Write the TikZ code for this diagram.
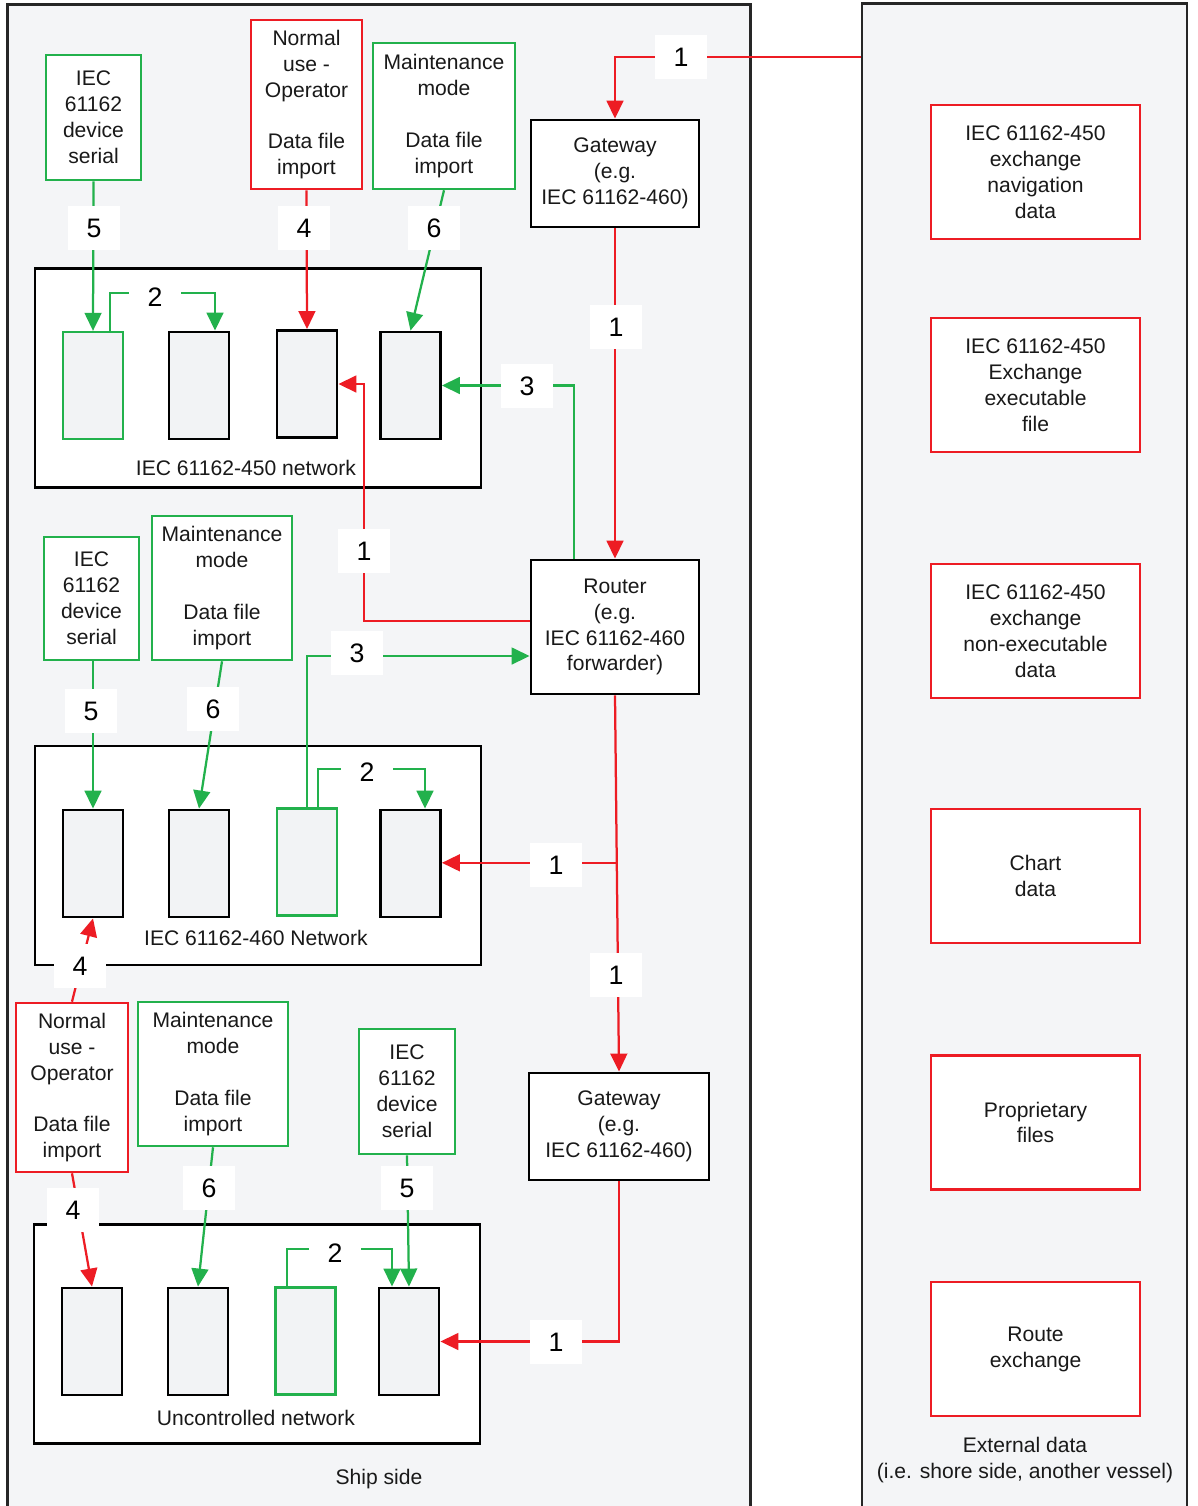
\documentclass[tikz,border=0pt]{standalone}
\usepackage{fontspec}
\setmainfont{Liberation Sans}
\usetikzlibrary{arrows.meta,calc}

\definecolor{ired}{HTML}{ED1C24}
\definecolor{igreen}{HTML}{22B14C}
\definecolor{panelgray}{HTML}{F4F5F7}
\definecolor{devgray}{HTML}{F2F3F5}

\tikzset{
  txt/.style={font=\fontsize{15}{18.4}\selectfont, align=center, text=black!90},
  blackbox/.style={txt, draw=black, line width=2pt, fill=white, inner sep=0pt},
  redbox/.style={txt, draw=ired, line width=1.8pt, fill=white, inner sep=0pt},
  greenbox/.style={txt, draw=igreen, line width=1.8pt, fill=white, inner sep=0pt},
  extbox/.style={redbox, minimum width=5.225cm, minimum height=3.35cm},
  dev/.style={draw=black, line width=2pt, fill=devgray, minimum width=1.5cm, minimum height=2.675cm, inner sep=0pt},
  gdev/.style={dev, draw=igreen, line width=1.6pt},
  net/.style={draw=black, line width=2pt, fill=white, minimum width=11.15cm, minimum height=5.475cm},
  panel/.style={draw=black!85, line width=2pt, fill=panelgray},
  num/.style={fill=white, minimum width=1.3cm, minimum height=1.1cm, inner sep=0pt, font=\fontsize{19}{19}\selectfont},
  tip/.style={-{Triangle[length=0.45cm,width=0.42cm]}},
  rline/.style={draw=ired, line width=1.6pt},
  gline/.style={draw=igreen, line width=1.6pt},
}

\begin{document}
\begin{tikzpicture}[x=0.025cm,y=-0.025cm]
  \useasboundingbox (0,0) rectangle (1197,1506);

  % the two sides
  \node[panel, minimum width=18.55cm, minimum height=37.75cm] (ship) at (379,760) {};
  \node[panel, minimum width=8.125cm, minimum height=37.775cm] (ext) at (1024.5,759.5) {};
  \node[txt] (shiplbl) at (379,1479) {Ship side};
  \node[txt] (extlbl) at (1025,1460) {External data\\(i.e. shore side, another vessel)};

  % external data
  \node[extbox] (xnav) at (1035.5,172) {IEC 61162-450\\exchange\\navigation\\data};
  \node[extbox] (xexe) at (1035.5,385) {IEC 61162-450\\Exchange\\executable\\file};
  \node[extbox] (xnonexe) at (1035.5,631) {IEC 61162-450\\exchange\\non-executable\\data};
  \node[extbox] (xchart) at (1035.5,876) {Chart\\data};
  \node[extbox] (xprop) at (1035.5,1122.5) {Proprietary\\files};
  \node[extbox] (xroute) at (1035.5,1349) {Route\\exchange};

  % networks
  \node[net] (net450) at (258,378) {};
  \node[net] (net460) at (258,855.5) {};
  \node[net] (netunc) at (257,1334) {};
  \node[txt] (lbl450) at (246,468) {IEC 61162-450 network};
  \node[txt] (lbl460) at (256,938) {IEC 61162-460 Network};
  \node[txt] (lblunc) at (256,1418) {Uncontrolled network};

  % devices
  \node[gdev] (d450a) at (93,385.5) {};
  \node[dev] (d450b) at (199,385.5) {};
  \node[dev] (d450c) at (307,384) {};
  \node[dev] (d450d) at (410.5,385.5) {};

  \node[dev] (d460a) at (93,863.5) {};
  \node[dev] (d460b) at (199,863.5) {};
  \node[gdev] (d460c) at (307,862) {};
  \node[dev] (d460d) at (410.5,863.5) {};

  \node[dev] (dunca) at (92,1341.5) {};
  \node[dev] (duncb) at (198,1341.5) {};
  \node[gdev] (duncc) at (305.5,1341) {};
  \node[dev] (duncd) at (409,1341.5) {};

  % gateways and router
  \node[blackbox, minimum width=4.2cm, minimum height=2.675cm] (gwtop) at (615,173.5) {Gateway\\(e.g.\\IEC 61162-460)};
  \node[blackbox, minimum width=4.2cm, minimum height=3.35cm] (router) at (615,627) {Router\\(e.g.\\IEC 61162-460\\forwarder)};
  \node[blackbox, minimum width=4.5cm, minimum height=2.675cm] (gwbot) at (619,1126.5) {Gateway\\(e.g.\\IEC 61162-460)};

  % data sources
  \node[greenbox, minimum width=2.375cm, minimum height=3.125cm] (serialA) at (93.5,117.5) {IEC\\61162\\device\\serial};
  \node[redbox, minimum width=2.775cm, minimum height=4.225cm] (normalA) at (306.5,104.5) {Normal\\use -\\Operator\\[18.4pt]Data file\\import};
  \node[greenbox, minimum width=3.55cm, minimum height=3.65cm] (maintA) at (444,116) {Maintenance\\mode\\[18.4pt]Data file\\import};

  \node[greenbox, minimum width=2.375cm, minimum height=3.075cm] (serialB) at (91.5,598.5) {IEC\\61162\\device\\serial};
  \node[greenbox, minimum width=3.5cm, minimum height=3.6cm] (maintB) at (222,588) {Maintenance\\mode\\[18.4pt]Data file\\import};

  \node[redbox, minimum width=2.8cm, minimum height=4.225cm] (normalC) at (72,1087.5) {Normal\\use -\\Operator\\[18.4pt]Data file\\import};
  \node[greenbox, minimum width=3.75cm, minimum height=3.6cm] (maintC) at (213,1074) {Maintenance\\mode\\[18.4pt]Data file\\import};
  \node[greenbox, minimum width=2.4cm, minimum height=3.125cm] (serialC) at (407,1091.5) {IEC\\61162\\device\\serial};

  % 1: external data through gateways and router
  \draw[rline,tip] (ext.west |- 0,57) -| (gwtop.north);
  \draw[rline,tip] (gwtop.south) -- (router.north);
  \draw[rline,tip] ([yshift=0.15cm]router.west) -| (364,0 |- d450c.east) -- (d450c.east);
  \draw[rline,tip] (router.south) -- (gwbot.north);
  \coordinate (split) at ($(router.south)!0.445!(gwbot.north)$);
  \draw[rline,tip] (split) -- (d460d.east |- split);
  \draw[rline,tip] (gwbot.south) |- (duncd.east);

  % 3: via router
  \draw[gline,tip] (574,0 |- router.north) |- (d450d.east);
  \draw[gline,tip] (d460c.north) |- ([yshift=-0.725cm]router.west);

  % 2: inside the networks
  \draw[gline,tip] ([xshift=0.425cm]d450a.north) -- ++(0,-38) -| ([xshift=0.4cm]d450b.north);
  \draw[gline,tip] ([xshift=0.275cm]d460c.north) -- ++(0,-38.5) -| ([xshift=0.3625cm]d460d.north);
  \draw[gline,tip] ([xshift=-0.4625cm]duncc.north) -- ++(0,-37.5) -| ([xshift=-0.425cm]duncd.north);

  % 4, 5, 6: local import
  \draw[gline,tip] (serialA.south) -- (d450a.north);
  \draw[rline,tip] (normalA.south) -- (d450c.north);
  \draw[gline,tip] (maintA.south) -- (d450d.north);
  \draw[gline,tip] (d460a.north |- serialB.south) -- (d460a.north);
  \draw[gline,tip] (maintB.south) -- (d460b.north);
  \draw[rline,tip] (normalC.north) -- (d460a.south);
  \draw[rline,tip] (normalC.south) -- (dunca.north);
  \draw[gline,tip] (maintC.south) -- (duncb.north);
  \draw[gline,tip] (serialC.south) -- (duncd.north);

  % numbers
  \node[num] (n1top) at (681,57) {1};
  \node[num] (n1gw) at (616,327) {1};
  \node[num] (n1net) at (364,551) {1};
  \node[num] (n3top) at (527,386) {3};
  \node[num] (n3mid) at (357,653) {3};
  \node[num] (n1mid) at (556,865) {1};
  \node[num] (n1rt) at (616,975) {1};
  \node[num] (n1bot) at (556,1342) {1};
  \node[num] (n2top) at (155,297) {2};
  \node[num] (n2mid) at (367,772) {2};
  \node[num] (n2bot) at (335,1253) {2};
  \node[num] (n5top) at (94,228) {5};
  \node[num] (n4top) at (304,228) {4};
  \node[num] (n6top) at (434,228) {6};
  \node[num] (n5mid) at (91,711) {5};
  \node[num] (n6mid) at (213,709) {6};
  \node[num] (n4mid) at (80,966) {4};
  \node[num] (n4bot) at (73,1210) {4};
  \node[num] (n6bot) at (209,1188) {6};
  \node[num] (n5bot) at (407,1188) {5};
\end{tikzpicture}
\end{document}
